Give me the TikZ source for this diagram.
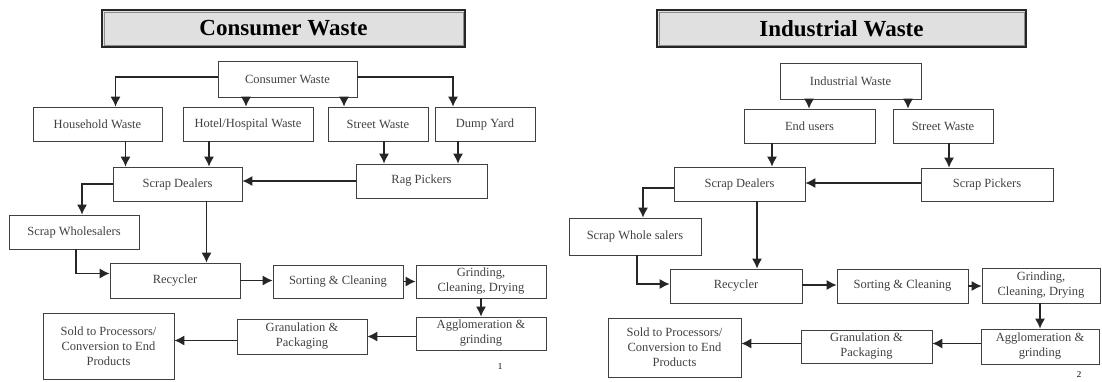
\documentclass[tikz,border=0pt]{standalone}
\usepackage{fontspec}
\setmainfont{Liberation Serif}
\usetikzlibrary{arrows.meta}
\begin{document}
\begin{tikzpicture}[x=1pt,y=-1pt,
  bx/.style={draw=black!75,line width=0.8pt,inner sep=0pt,align=center,
    font=\fontsize{12.5}{15}\selectfont,text=black!75},
  arr/.style={draw=black!85,line width=1.1pt,-{Latex[length=10pt,width=10pt]}},
  ttl/.style={fill=black!12,draw=black!85,line width=1.6pt,inner sep=0pt,
    font=\fontsize{23}{26}\selectfont\bfseries},
  pg/.style={font=\fontsize{9}{10}\selectfont}]
\useasboundingbox (0,0) rectangle (1102,381);
% ---------------- Left panel ----------------
\node[ttl,minimum width=363pt,minimum height=37pt] (t1) at (283.5,28.5) {Consumer Waste};
\draw[black!45,line width=0.5pt] ([shift={(3pt,-3pt)}]t1.north west) rectangle ([shift={(-3pt,3pt)}]t1.south east);
\node[bx,minimum width=139pt,minimum height=36pt] (cw) at (287.5,79) {Consumer Waste};
\node[bx,minimum width=129pt,minimum height=34pt] (hh) at (97.5,124) {Household Waste};
\node[bx,minimum width=130pt,minimum height=34pt] (hw) at (248,124) {Hotel/Hospital Waste};
\node[bx,minimum width=100pt,minimum height=34pt] (sw) at (378,124) {Street Waste};
\node[bx,minimum width=100pt,minimum height=34pt] (dy) at (485,124) {Dump Yard};
\node[bx,minimum width=129pt,minimum height=34pt] (sd) at (177.5,184) {Scrap Dealers};
\node[bx,minimum width=131pt,minimum height=34pt] (rp) at (421.5,181) {Rag Pickers};
\node[bx,minimum width=130pt,minimum height=34pt] (swh) at (74,232) {Scrap Wholesalers};
\node[bx,minimum width=130pt,minimum height=35pt] (rec) at (175,280.5) {Recycler};
\node[bx,minimum width=130pt,minimum height=33pt] (sc) at (338,281.5) {Sorting \& Cleaning};
\node[bx,minimum width=130pt,minimum height=33pt] (gr) at (481,281.5) {Grinding,\\Cleaning, Drying};
\node[bx,minimum width=130pt,minimum height=33pt] (ag) at (481,333.5) {Agglomeration \&\\grinding};
\node[bx,minimum width=130pt,minimum height=35pt] (gran) at (302,336.5) {Granulation \&\\Packaging};
\node[bx,minimum width=131pt,minimum height=66pt] (sold) at (108.5,346) {Sold to Processors/\\Conversion to End\\Products};
\node[pg] (p1) at (500,367) {1};
\draw[arr] ([yshift=2pt]cw.west) -| ([xshift=18pt]hh.north);
\draw[arr] ([xshift=-2pt]hw.north |- cw.south) -- ([xshift=-2pt]hw.north);
\draw[arr] ([xshift=-34pt]sw.north |- cw.south) -- ([xshift=-34pt]sw.north);
\draw[arr] ([yshift=2pt]cw.east) -| ([xshift=-32pt]dy.north);
\draw[arr] ([xshift=28pt]hh.south) -- ([xshift=28pt]hh.south |- sd.north);
\draw[arr] ([xshift=-39pt]hw.south) -- ([xshift=-39pt]hw.south |- sd.north);
\draw[arr] ([xshift=6pt]sw.south) -- ([xshift=6pt]sw.south |- rp.north);
\draw[arr] ([xshift=-27pt]dy.south) -- ([xshift=-27pt]dy.south |- rp.north);
\draw[arr] (rp.west) -- (rp.west -| sd.east);
\draw[arr] (sd.west) -| ([xshift=8pt]swh.north);
\draw[arr] ([xshift=29pt]sd.south) -- ([xshift=29pt]sd.south |- rec.north);
\draw[arr] ([xshift=2pt]swh.south) |- ([yshift=7pt]rec.west);
\draw[arr] (rec.east) -- (rec.east -| sc.west);
\draw[arr] (sc.east) -- (gr.west);
\draw[arr] (gr.south) -- (ag.north);
\draw[arr] ([yshift=-3pt]ag.west) -- ([yshift=-3pt]ag.west -| gran.east);
\draw[arr] ([yshift=-4pt]gran.west) -- ([yshift=-4pt]gran.west -| sold.east);
% ---------------- Right panel ----------------
\node[ttl,minimum width=369pt,minimum height=37pt] (t2) at (841.5,28.5) {Industrial Waste};
\draw[black!45,line width=0.5pt] ([shift={(3pt,-3pt)}]t2.north west) rectangle ([shift={(-3pt,3pt)}]t2.south east);
\node[bx,minimum width=141pt,minimum height=36pt] (iw) at (850.5,81) {Industrial Waste};
\node[bx,minimum width=131pt,minimum height=34pt] (eu) at (809.5,126) {End users};
\node[bx,minimum width=100pt,minimum height=34pt] (sw2) at (943,126) {Street Waste};
\node[bx,minimum width=131pt,minimum height=34pt] (sd2) at (739.5,184) {Scrap Dealers};
\node[bx,minimum width=132pt,minimum height=33pt] (sp2) at (987,184.5) {Scrap Pickers};
\node[bx,minimum width=132pt,minimum height=37pt] (swh2) at (635,236.5) {Scrap Whole salers};
\node[bx,minimum width=132pt,minimum height=34pt] (rec2) at (736,286) {Recycler};
\node[bx,minimum width=131pt,minimum height=34pt] (sc2) at (902.5,286) {Sorting \& Cleaning};
\node[bx,minimum width=118pt,minimum height=35pt] (gr2) at (1041,285.5) {Grinding,\\Cleaning, Drying};
\node[bx,minimum width=118pt,minimum height=35pt] (ag2) at (1040,346.5) {Agglomeration \&\\grinding};
\node[bx,minimum width=131pt,minimum height=33pt] (gran2) at (866.5,346.5) {Granulation \&\\Packaging};
\node[bx,minimum width=133pt,minimum height=59pt] (sold2) at (674.5,347.5) {Sold to Processors/\\Conversion to End\\Products};
\node[pg] (p2) at (1079,375) {2};
\draw[arr] ([xshift=-0.5pt]eu.north |- iw.south) -- ([xshift=-0.5pt]eu.north);
\draw[arr] ([xshift=-35pt]sw2.north |- iw.south) -- ([xshift=-35pt]sw2.north);
\draw[arr] ([xshift=-37.5pt]eu.south) -- ([xshift=-37.5pt]eu.south |- sd2.north);
\draw[arr] ([xshift=6pt]sw2.south) -- ([xshift=6pt]sw2.south |- sp2.north);
\draw[arr] ([yshift=1.5pt]sp2.west) -- ([yshift=1.5pt]sp2.west -| sd2.east);
\draw[arr] ([yshift=-4pt]sd2.west) -| ([xshift=8pt]swh2.north);
\draw[arr] ([xshift=17.5pt]sd2.south) -- ([xshift=17.5pt]sd2.south |- rec2.north);
\draw[arr] ([xshift=2pt]swh2.south) |- ([yshift=2pt]rec2.west);
\draw[arr] ([yshift=1pt]rec2.east) -- ([yshift=1pt]rec2.east -| sc2.west);
\draw[arr] (sc2.east) -- (sc2.east -| gr2.west);
\draw[arr] ([xshift=-1pt]gr2.south) -- ([xshift=-1pt]gr2.south |- ag2.north);
\draw[arr] ([yshift=3pt]ag2.west) -- ([yshift=3pt]ag2.west -| gran2.east);
\draw[arr] ([yshift=3pt]gran2.west) -- ([yshift=3pt]gran2.west -| sold2.east);
\end{tikzpicture}
\end{document}
